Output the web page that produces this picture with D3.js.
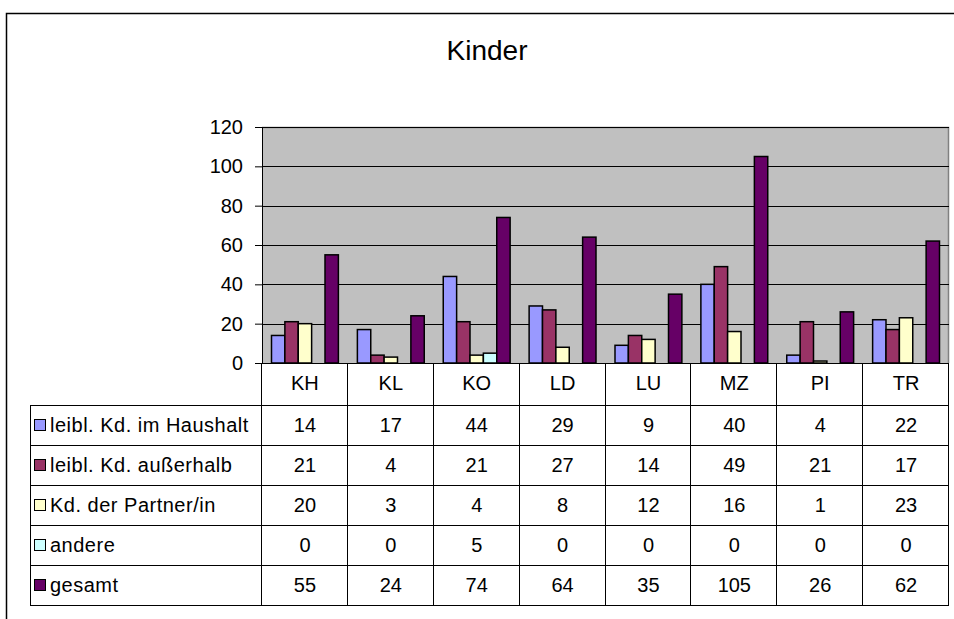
<!DOCTYPE html>
<html>
<head>
<meta charset="utf-8">
<script src="https://cdn.jsdelivr.net/npm/d3@7"></script>
<style>
  body { margin: 0; background: #fff; }
  svg { display: block; font-family: "Liberation Sans", Arial, sans-serif; }
</style>
</head>
<body>
<div id="chart"></div>
<script>
var categories = ["KH", "KL", "KO", "LD", "LU", "MZ", "PI", "TR"];
var seriesNames = ["leibl. Kd. im Haushalt", "leibl. Kd. außerhalb", "Kd. der Partner/in", "andere", "gesamt"];
var seriesColors = ["#9999FF", "#993366", "#FFFFCC", "#CCFFFF", "#660066"];
var haushalt = [14, 17, 44, 29, 9, 40, 4, 22];
var ausserhalb = [21, 4, 21, 27, 14, 49, 21, 17];
var partner = [20, 3, 4, 8, 12, 16, 1, 23];
var andere = [0, 0, 5, 0, 0, 0, 0, 0];
var gesamt = [55, 24, 74, 64, 35, 105, 26, 62];
var yTicks = [0, 20, 40, 60, 80, 100, 120];

var seriesValues = [haushalt, ausserhalb, partner, andere, gesamt];

var width = 954, height = 619;
var margin = { top: 127, right: 5, bottom: 256, left: 262 };
var plotW = width - margin.left - margin.right,
    plotH = height - margin.top - margin.bottom;

var svg = d3.select("#chart").append("svg")
    .attr("width", width)
    .attr("height", height);

// outer frame (cut off at right/bottom like the source)
svg.append("rect")
    .attr("x", 6.5).attr("y", 13.5)
    .attr("width", 1000).attr("height", 1000)
    .style("fill", "none").style("stroke", "#000").style("stroke-width", 1.5);

svg.append("text")
    .attr("x", 487).attr("y", 60)
    .attr("text-anchor", "middle")
    .style("font-size", "28px")
    .text("Kinder");

var x0 = d3.scaleBand().domain(categories).range([0, plotW]);
var x1 = d3.scaleBand().domain(d3.range(seriesNames.length))
    .range([9.5, x0.bandwidth() - 9.5]);
var y = d3.scaleLinear().domain([0, 120]).range([plotH, 0]);

var g = svg.append("g")
    .attr("transform", "translate(" + margin.left + "," + margin.top + ")");

g.append("rect")
    .attr("width", plotW).attr("height", plotH)
    .style("fill", "#C0C0C0");

// top / right border of plot area
g.append("path")
    .attr("d", "M0,0.5H" + (plotW - 0.5) + "V" + plotH)
    .style("fill", "none").style("stroke", "#808080").style("stroke-width", 1.5);

var yAxis = d3.axisLeft(y).tickValues(yTicks).tickSize(7).tickPadding(12);
var yg = g.append("g").attr("class", "y axis").call(yAxis);
yg.select(".domain").remove();
yg.selectAll("line").style("stroke", "#000");
yg.selectAll("text").style("font-size", "20px").style("fill", "#000");

g.append("g").selectAll("line.grid")
    .data(yTicks.slice(1))
    .enter().append("line")
    .attr("x1", 0).attr("x2", plotW)
    .attr("y1", function (d) { return Math.round(y(d)) + 0.5; })
    .attr("y2", function (d) { return Math.round(y(d)) + 0.5; })
    .style("stroke", "#000");

g.append("line")
    .attr("x1", 0.5).attr("x2", 0.5).attr("y1", 0).attr("y2", plotH)
    .style("stroke", "#000");

var groups = g.selectAll(".grp")
    .data(categories)
    .enter().append("g")
    .attr("class", "grp")
    .attr("transform", function (d) { return "translate(" + x0(d) + ",0)"; });

groups.selectAll("rect")
    .data(function (d, i) {
        return seriesValues.map(function (vals, s) { return { s: s, v: vals[i] }; });
    })
    .enter().append("rect")
    .attr("x", function (d) { return x1(d.s); })
    .attr("width", x1.bandwidth())
    .attr("y", function (d) { return y(d.v); })
    .attr("height", function (d) { return plotH - y(d.v); })
    .style("fill", function (d) { return seriesColors[d.s]; })
    .style("stroke", "#000")
    .style("stroke-width", 1.5);

// x axis line
g.append("line")
    .attr("x1", 0).attr("x2", plotW).attr("y1", plotH + 0.5).attr("y2", plotH + 0.5)
    .style("stroke", "#000");

// data table
var tableTop = margin.top + plotH;
var legendLeft = 30;
var rows = d3.scaleBand().domain(d3.range(seriesNames.length)).range([406, 606]);
var tbl = svg.append("g").attr("class", "table");

// header labels
tbl.selectAll("text.hdr")
    .data(categories)
    .enter().append("text")
    .attr("class", "hdr")
    .attr("x", function (d) { return margin.left + x0(d) + x0.bandwidth() / 2; })
    .attr("y", 390)
    .attr("text-anchor", "middle")
    .style("font-size", "20px")
    .text(function (d) { return d; });

// horizontal lines
tbl.selectAll("line.h")
    .data(d3.range(seriesNames.length + 1))
    .enter().append("line")
    .attr("x1", legendLeft).attr("x2", margin.left + plotW)
    .attr("y1", function (d) { return Math.round(rows.range()[0] + d * rows.bandwidth()) - 0.5; })
    .attr("y2", function (d) { return Math.round(rows.range()[0] + d * rows.bandwidth()) - 0.5; })
    .style("stroke", "#000");

// vertical lines
var vx = categories.map(function (c) { return margin.left + x0(c); }).concat([margin.left + plotW]);
tbl.selectAll("line.v")
    .data(vx)
    .enter().append("line")
    .attr("x1", function (d) { return Math.round(d) - 0.5; })
    .attr("x2", function (d) { return Math.round(d) - 0.5; })
    .attr("y1", tableTop).attr("y2", 606)
    .style("stroke", "#000");
tbl.append("line")
    .attr("x1", legendLeft + 0.5).attr("x2", legendLeft + 0.5)
    .attr("y1", 405).attr("y2", 606)
    .style("stroke", "#000");

var rowG = tbl.selectAll("g.row")
    .data(seriesNames)
    .enter().append("g")
    .attr("class", "row")
    .attr("transform", function (d, i) { return "translate(0," + rows(i) + ")"; });

rowG.append("rect")
    .attr("x", 34.5).attr("y", rows.bandwidth() / 2 - 6.5)
    .attr("width", 11).attr("height", 11)
    .style("fill", function (d, i) { return seriesColors[i]; })
    .style("stroke", "#000");

rowG.append("text")
    .attr("x", 50).attr("y", rows.bandwidth() / 2 + 6)
    .style("font-size", "20px")
    .style("letter-spacing", "0.5px")
    .text(function (d) { return d; });

rowG.selectAll("text.val")
    .data(function (d, i) { return seriesValues[i]; })
    .enter().append("text")
    .attr("class", "val")
    .attr("x", function (d, j) { return margin.left + x0(categories[j]) + x0.bandwidth() / 2; })
    .attr("y", rows.bandwidth() / 2 + 6)
    .attr("text-anchor", "middle")
    .style("font-size", "20px")
    .text(function (d) { return d; });
</script>
</body>
</html>
